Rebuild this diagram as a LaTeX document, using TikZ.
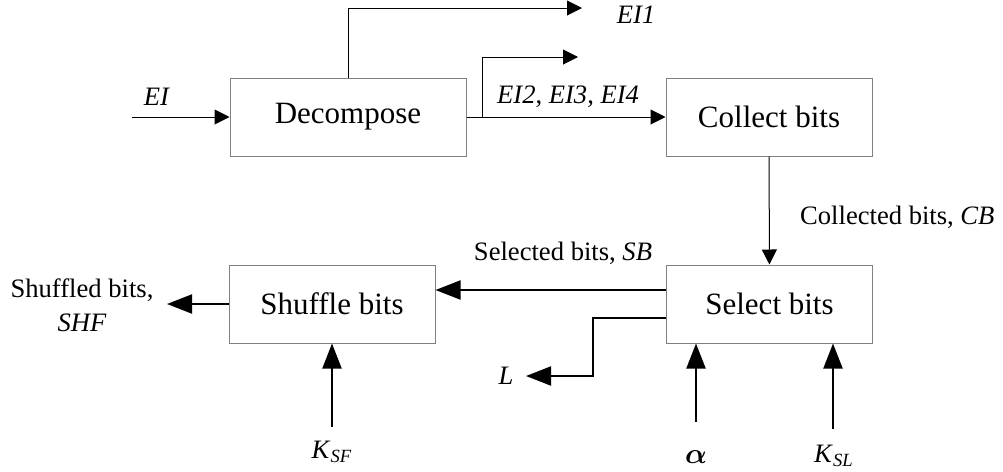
\documentclass[tikz,border=0pt]{standalone}
\usepackage{fontspec}
\setmainfont{Liberation Serif}
\usepackage{bm}
\usetikzlibrary{arrows.meta}

\begin{document}
\begin{tikzpicture}[x=0.5pt,y=-0.5pt]
  \tikzset{
      > = {Triangle[length=7.5pt,width=7.5pt]},
      every node/.append style = {
          font = \fontsize{13.3}{17}\selectfont
      },
      every path/.append style = {
          line width = 0.5pt
      },
      block/.style = {
          draw = gray,
          minimum width = 103pt,
          minimum height = 39pt,
          font = \fontsize{15.5}{18}\selectfont
      },
      flow/.style = {
          arrows = ->
      },
      boldflow/.style = {
          line width = 1pt,
          arrows = -{Triangle[length=12.5pt,width=9.5pt]}
      }
  }
  \useasboundingbox (0,0) rectangle (1003,472);

  % blocks
  \node[block, minimum width=118pt] (decomp) at (348,117) {Decompose};
  \node[block] (collect) at (769,117) {Collect bits};
  \node[block] (select) at (769.5,304) {Select bits};
  \node[block] (shuffle) at (332,304) {Shuffle bits};

  % free ends
  \coordinate (ei) at (132,117);
  \coordinate (ei1) at (582,8);
  \coordinate (fork) at (482,117);
  \coordinate (ei2) at (578,57);
  \coordinate (shf) at (167,304);
  \coordinate (lout) at (526,376);
  \coordinate (ksf) at (332,427);
  \coordinate (al) at (696,422);
  \coordinate (ksl) at (833,429);

  % labels
  \node (eilab) at (157,97) {\textit{EI}};
  \node (eionelab) at (636,15) {\textit{EI1}};
  \node[anchor=west] (eirestlab) at (490,97) {\textit{EI2}, \textit{EI3}, \textit{EI4}};
  \node[anchor=west] (cblab) at (793,217) {Collected bits, \textit{CB}};
  \node (sblab) at (563,253) {Selected bits, \textit{SB}};
  \node[align=center] (shflab) at (82,305) {Shuffled bits,\\\textit{SHF}};
  \node (llab) at (506,376) {\textit{L}};
  \node (ksflab) at (332,452) {\textit{K}\textsubscript{\textit{SF}}};
  \node (allab) at (696,457) {$\bm{\alpha}$};
  \node (ksllab) at (834,456) {\textit{K}\textsubscript{\textit{SL}}};

  % connectors
  \path (ei) edge[flow] (decomp);
  \draw[flow] (decomp.north) |- (ei1);
  \path (decomp) edge[flow] (collect);
  \draw[flow] (fork) |- (ei2);
  \path (collect) edge[flow] (select);
  \draw[boldflow] ([yshift=7pt]select.west) -- ([yshift=7pt]shuffle.east);
  \draw[boldflow] ([yshift=-7pt]select.west) -- ++(-36.5pt,0) |- (lout);
  \path (shuffle) edge[boldflow] (shf);
  \path (ksf) edge[boldflow] (shuffle);
  \draw[boldflow] (al) -- (al |- select.south);
  \draw[boldflow] (ksl) -- (ksl |- select.south);

\end{tikzpicture}
\end{document}
